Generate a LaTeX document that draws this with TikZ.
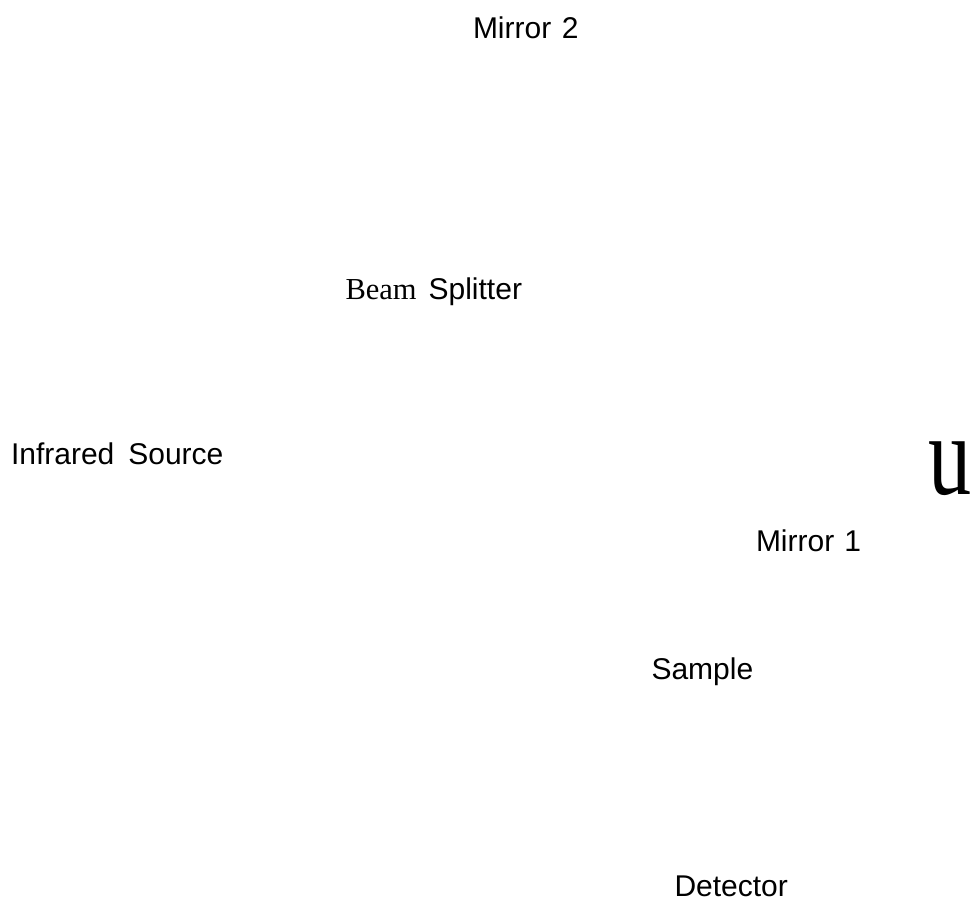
\documentclass[tikz,border=0pt]{standalone}
\usepackage{fontspec}
\setmainfont{Liberation Sans}
\newfontfamily\seriffont{Liberation Serif}
\begin{document}
\begin{tikzpicture}[x=1pt,y=-1pt,
  lbl/.style={anchor=base west,inner sep=0pt,outer sep=0pt,font=\fontsize{30}{35}\selectfont,text=black}]
\useasboundingbox (0,0) rectangle (970,898);
\clip (0,0) rectangle (970,898);
\node[lbl] (mirror2) at (473,38) {Mirror\hspace{10.5pt}2};
\node[lbl] (beamsplitter) at (345.5,299) {{\seriffont\fontsize{30.5}{35}\selectfont Beam}\hspace{12pt}Splitter};
\node[lbl] (source) at (11,464) {Infrared\hspace{14pt}Source};
\node[lbl] (mirror1) at (756,551) {Mirror\hspace{10pt}1};
\node[lbl] (sample) at (651.5,679) {Sample};
\node[lbl] (detector) at (674.5,896) {Detector};
\node[anchor=base west,inner sep=0pt,font=\seriffont\fontsize{115}{120}\selectfont] (u) at (928,494.5) {\scalebox{0.75}[1]{u}};
\end{tikzpicture}
\end{document}
